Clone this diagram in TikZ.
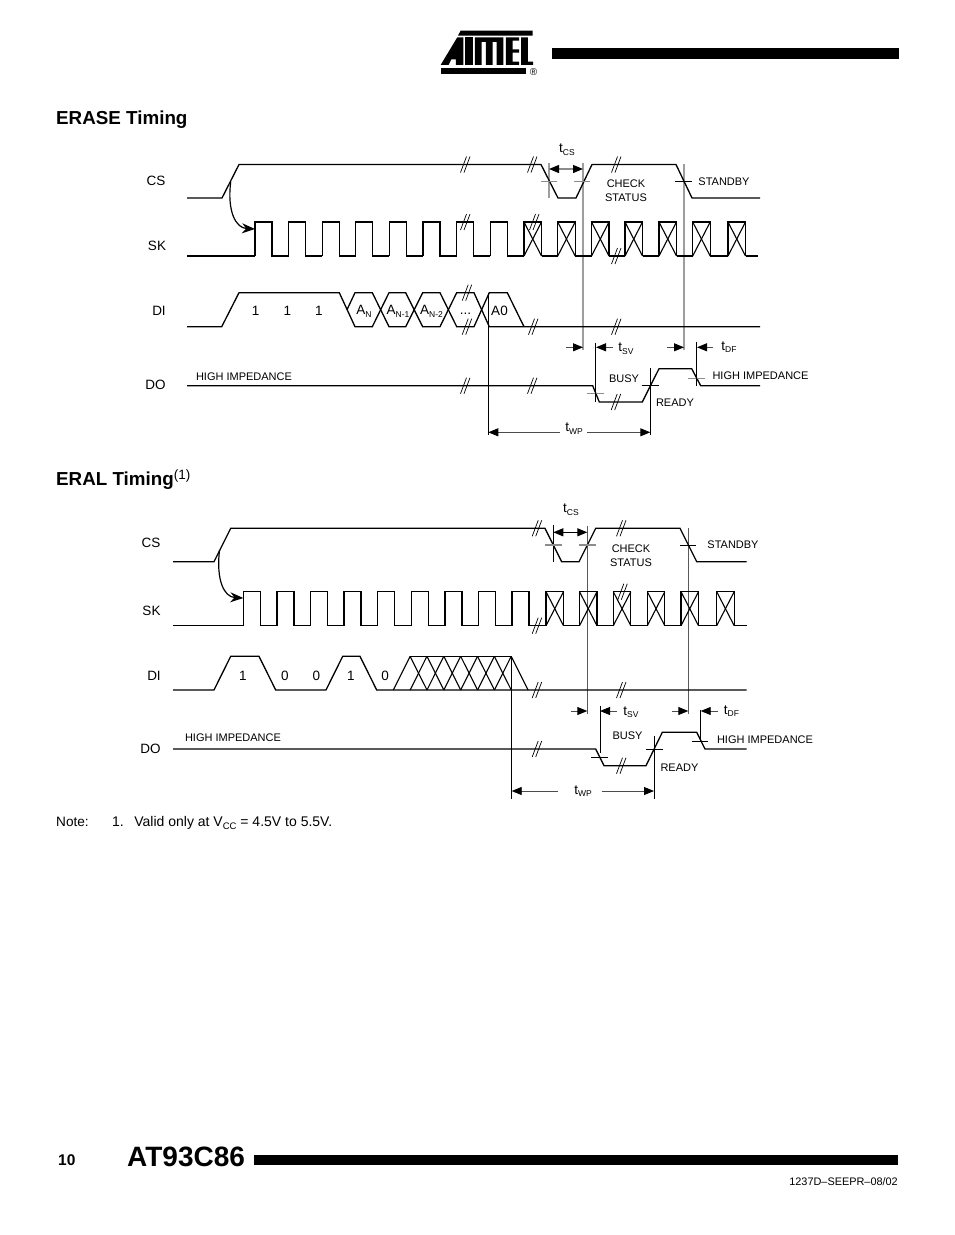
\documentclass[tikz,border=0pt]{standalone}
\usepackage{fontspec}
\setmainfont{Liberation Sans}
\usetikzlibrary{arrows.meta}

\newcommand{\subtxt}[1]{\raisebox{-2.5pt}{\fontsize{8.5}{9}\selectfont #1}}
\newcommand{\BreakMark}[2]{%
    \draw[BreakLine] (#1,#2) ++(-4.5,8) -- ++(6,-16);
    \draw[BreakLine] (#1,#2) ++(-1,8) -- ++(6,-16);
}
\newcommand{\CrossBox}[4]{%
    \draw[Wave] (#1,#4) -- (#1,#3) -- (#2,#3) -- (#2,#4);
    \draw[Thin] (#1,#3) -- (#2,#4);
    \draw[Thin] (#1,#4) -- (#2,#3);
}

\begin{document}
\begin{tikzpicture}
    [
        x=1pt,y=-1pt,
        Wave/.style={line width=1.3pt,line join=miter},
        Thin/.style={line width=1.1pt},
        BreakLine/.style={line width=0.7pt},
        Tick/.style={line width=0.9pt},
        TickGray/.style={line width=1.1pt,color=black!45},
        Guide/.style={line width=1pt},
        GuideGray/.style={line width=1.6pt,color=black!38},
        GuideDark/.style={line width=1pt,color=black!65},
        Dim/.style={line width=0.9pt,color=black!70,-{Triangle[length=10pt,width=8pt,color=black]}},
        DimBoth/.style={line width=1.2pt,color=black!45,{Triangle[length=10pt,width=8pt,color=black]}-{Triangle[length=10pt,width=8pt,color=black]}},
        Swoop/.style={line width=1.2pt,-{Stealth[length=13pt,width=10pt]}},
        Heading/.style={inner sep=0pt,anchor=west,yshift=-2pt,font=\fontsize{18.8}{22}\selectfont\bfseries},
        Time/.style={inner sep=0pt,font=\fontsize{13.5}{15}\selectfont},
        Signal/.style={inner sep=0pt,yshift=-1pt,font=\fontsize{13.5}{15}\selectfont},
        Small/.style={inner sep=0pt,yshift=-1pt,align=center,font=\fontsize{11}{14}\selectfont}
    ]
    \useasboundingbox (0,0) rectangle (954,1235);

    % page head
    \fill (552,48) rectangle (899,59);
    \begin{scope}[shift={(420,20)},x=0.333pt,y=-0.333pt]
        \fill (122,32) -- (338,32) -- (338,47) -- (114,47) -- cycle;
        \fill (112,52) -- (130,52) -- (130,135) -- (108,135) -- (108,118) -- (94,118) -- (86,135) -- (62,135) -- cycle;
        \fill (136,52) rectangle (158,135);
        \fill (165,52) -- (250,52) -- (250,135) -- (230,135) -- (230,66) -- (218,66) -- (218,135) -- (198,135) -- (198,66) -- (185,66) -- (185,135) -- (165,135) -- cycle;
        \fill (258,52) -- (298,52) -- (298,62) -- (278,62) -- (278,88) -- (298,88) -- (298,98) -- (278,98) -- (278,125) -- (298,125) -- (298,135) -- (258,135) -- cycle;
        \fill (304,52) -- (324,52) -- (324,125) -- (340,125) -- (340,135) -- (304,135) -- cycle;
        \fill (62,145) rectangle (318,162);
    \end{scope}
    \node[inner sep=0pt,font=\fontsize{10}{10}\selectfont] (regmark) at (533.5,72) {®};

    % erase timing
    \node[Heading] (eraseTitle) at (56,118) {ERASE Timing};
    \node[Signal] (eraseCS) at (156,180) {CS};
    \node[Signal] (eraseSK) at (157,245) {SK};
    \node[Signal] (eraseDI) at (159,310) {DI};
    \node[Signal] (eraseDO) at (155.5,384) {DO};

    \draw[GuideGray] (549,163) -- (549,198);
    \draw[GuideGray] (583,163) -- (583,350);
    \draw[GuideGray] (684,164) -- (684,350);
    \draw[Wave] (187,198) -- (222,198) -- (239,164.5) -- (541,164.5) -- (558,198) -- (576,198) -- (592,164.5) -- (676,164.5) -- (692,198) -- (760,198);
    \draw[TickGray] (541,181.7) -- (557,181.7);
    \draw[TickGray] (574,181.7) -- (590,181.7);
    \draw[Tick] (675,181.7) -- (692,181.7);

    \draw[Wave] (187,256) -- (255,256);
    \foreach \x in {255,288.6,322.2,355.8,389.4,423,456.6,490.2}
        \draw[Wave] (\x,256) -- (\x,222) -- (\x+17,222) -- (\x+17,256) -- (\x+33.6,256);
    \foreach \x in {524,557.7,591.5,625,659,692.7,728}
        \CrossBox{\x}{\x+17.5}{222}{256};
    \draw[Wave] (541.5,256) -- (557.7,256) (575.2,256) -- (591.5,256) (609,256) -- (625,256) (642.5,256) -- (659,256) (676.5,256) -- (692.7,256) (710.2,256) -- (728,256) (745.5,256) -- (758,256);

    \draw[Wave] (187,326.7) -- (221.7,326.7) -- (239,292.7) -- (339.3,292.7) -- (355,326.7) -- (372.3,326.7) -- (389,292.7) -- (405.7,292.7) -- (422.7,326.7) -- (440,326.7) -- (456.7,292.7) -- (474,292.7) -- (489.3,326.7) -- (760,326.7);
    \draw[Wave] (347,309.7) -- (355,292.7) -- (372.3,292.7) -- (389,326.7) -- (405.7,326.7) -- (422.7,292.7) -- (440,292.7) -- (456.7,326.7) -- (474,326.7) -- (489.3,292.7) -- (507.3,292.7) -- (524,326.7);

    \draw[Wave] (187,385.7) -- (592.7,385.7) -- (599.3,402) -- (642.3,402) -- (659,368.7) -- (691.7,368.7) -- (700.7,385.7) -- (760,385.7);
    \draw[TickGray] (587.3,393.3) -- (604,393.3);
    \draw[Tick] (641.7,385.3) -- (658.7,385.3);
    \draw[TickGray] (688.3,378.3) -- (705,378.3);

    \foreach \x/\y in {465/164.5,532/164.5,616/164.5,465/222,534/222,616/256,466.7/292.7,466.7/326.7,533/326.7,616/326.7,465/385.7,532/385.7,615.7/402}
        \BreakMark{\x}{\y};

    \coordinate (eraseCurveA) at (230.7,181.7);
    \coordinate (eraseCurveB) at (255,229);
    \draw[Swoop] (eraseCurveA) .. controls (227,212) and (236,228) .. (eraseCurveB);

    \node[Signal] (eraseOneA) at (255.7,310) {1};
    \node[Signal] (eraseOneB) at (287.5,310) {1};
    \node[Signal] (eraseOneC) at (319,310) {1};
    \node[Signal] (eraseAn) at (364,310.5) {A\subtxt{N}};
    \node[Signal] (eraseAnA) at (398,310.5) {A\subtxt{N-1}};
    \node[Signal] (eraseAnB) at (431.5,310.5) {A\subtxt{N-2}};
    \node[Signal] (eraseDots) at (465.5,313) {...};
    \node[Signal] (eraseAz) at (499.5,309.5) {A0};

    \node[Time] (eraseTcs) at (567,149.5) {t\subtxt{CS}};
    \node[Small] (eraseCheck) at (626,190) {CHECK\\STATUS};
    \node[Small] (eraseStandby) at (724,181) {STANDBY};
    \node[Time] (eraseTsv) at (626,348.5) {t\subtxt{SV}};
    \node[Time] (eraseTdf) at (729,347) {t\subtxt{DF}};
    \node[Small] (eraseImpA) at (244,376) {HIGH IMPEDANCE};
    \node[Small] (eraseImpB) at (760.5,375) {HIGH IMPEDANCE};
    \node[Small] (eraseBusy) at (624,378) {BUSY};
    \node[Small] (eraseReady) at (675,402) {READY};
    \node[Time] (eraseTwp) at (574,428.5) {t\subtxt{WP}};

    \coordinate (eraseTcsL) at (549,169);
    \coordinate (eraseTcsR) at (583,169);
    \draw[DimBoth] (eraseTcsL) -- (eraseTcsR);

    \draw[Guide] (488.3,292.7) -- (488.3,435);
    \draw[Guide] (595.7,343) -- (595.7,401.7);
    \draw[Guide] (650.3,368) -- (650.3,435);
    \draw[Guide] (696.7,341.7) -- (696.7,386);
    \draw[Dim] (566,347.3) -- (583,347.3);
    \draw[Dim] (613,347.3) -- (596,347.3);
    \draw[Dim] (666.7,347.3) -- (684,347.3);
    \draw[Dim] (713,347.3) -- (697,347.3);
    \draw[Dim] (560,432.3) -- (488.3,432.3);
    \draw[Dim] (587,432.3) -- (650.3,432.3);

    % eral timing
    \node[Heading] (eralTitle) at (56,478) {ERAL Timing\raisebox{6pt}{\fontsize{13.5}{14}\selectfont\mdseries(1)}};
    \node[Signal] (eralCS) at (151,542) {CS};
    \node[Signal] (eralSK) at (151.5,610) {SK};
    \node[Signal] (eralDI) at (154,675) {DI};
    \node[Signal] (eralDO) at (150.5,748) {DO};

    \draw[Guide] (553.3,525) -- (553.3,561.7);
    \draw[GuideDark] (587.3,526) -- (587.3,714);
    \draw[GuideDark] (688.3,528) -- (688.3,714);
    \draw[Wave] (173,561.7) -- (214,561.7) -- (230.7,528.3) -- (545,528.3) -- (561.7,561.7) -- (579,561.7) -- (595.7,528.3) -- (680,528.3) -- (696.7,561.7) -- (746.7,561.7);
    \draw[TickGray] (545,545) -- (561.7,545);
    \draw[TickGray] (579,545) -- (595.7,545);
    \draw[Tick] (680,545) -- (696,545);

    \draw[Wave] (173,625.7) -- (243.3,625.7);
    \foreach \x in {243.3,276.9,310.5,344.1,377.7,411.3,444.9,478.5,512.1}
        \draw[Wave] (\x,625.7) -- (\x,591.7) -- (\x+17,591.7) -- (\x+17,625.7) -- (\x+33.6,625.7);
    \foreach \x in {546,579.5,613.3,647.3,681,716.7}
        \CrossBox{\x}{\x+17.5}{591.7}{625.7};
    \draw[Wave] (563.5,625.7) -- (579.5,625.7) (597,625.7) -- (613.3,625.7) (630.8,625.7) -- (647.3,625.7) (664.8,625.7) -- (681,625.7) (698.5,625.7) -- (716.7,625.7) (734.2,625.7) -- (746.7,625.7);

    \draw[Wave] (173,690) -- (214,690) -- (230.7,656.3) -- (259,656.3) -- (275.7,690) -- (326,690) -- (342.7,656.3) -- (360,656.3) -- (376.7,690) -- (746.7,690);
    \draw[Wave] (410,656.3) -- (511.7,656.3);
    \foreach \i in {0,...,6} {
        \draw[Thin] (393.3+16.85*\i,690) -- (410.1+16.85*\i,656.3);
        \draw[Thin] (410.1+16.85*\i,656.3) -- (427+16.85*\i,690);
    }

    \draw[Wave] (173,749) -- (595.7,749) -- (604,765.7) -- (646,765.7) -- (662.3,732.3) -- (696.7,732.3) -- (705,749) -- (746.7,749);
    \draw[Tick] (591,757.3) -- (608,757.3);
    \draw[Tick] (646,749) -- (663,749);
    \draw[Tick] (691.7,741.7) -- (708,741.7);

    \foreach \x/\y in {536.7/528.3,621/528.3,536.7/625.7,622.3/591.7,536.7/690,621/690,536.7/749,621/765.7}
        \BreakMark{\x}{\y};

    \coordinate (eralCurveA) at (219.5,550);
    \coordinate (eralCurveB) at (243.3,598);
    \draw[Swoop] (eralCurveA) .. controls (216,580) and (224,597) .. (eralCurveB);

    \node[Signal] (eralOneA) at (243,675) {1};
    \node[Signal] (eralZeroA) at (285,675) {0};
    \node[Signal] (eralZeroB) at (316.5,675) {0};
    \node[Signal] (eralOneB) at (351,675) {1};
    \node[Signal] (eralZeroC) at (385,675) {0};

    \node[Time] (eralTcs) at (571,509.5) {t\subtxt{CS}};
    \node[Small] (eralCheck) at (631,554.5) {CHECK\\STATUS};
    \node[Small] (eralStandby) at (733,544) {STANDBY};
    \node[Time] (eralTsv) at (631,712) {t\subtxt{SV}};
    \node[Time] (eralTdf) at (731.5,711) {t\subtxt{DF}};
    \node[Small] (eralImpA) at (233,737) {HIGH IMPEDANCE};
    \node[Small] (eralImpB) at (765,739) {HIGH IMPEDANCE};
    \node[Small] (eralBusy) at (627.5,735) {BUSY};
    \node[Small] (eralReady) at (679.5,767) {READY};
    \node[Time] (eralTwp) at (583,791) {t\subtxt{WP}};

    \coordinate (eralTcsL) at (553.3,532.3);
    \coordinate (eralTcsR) at (587.3,532.3);
    \draw[DimBoth,color=black] (eralTcsL) -- (eralTcsR);

    \draw[Guide] (511.7,656.3) -- (511.7,799);
    \draw[Guide] (600,706) -- (600,753);
    \draw[Guide] (654,735.7) -- (654,799);
    \draw[Guide] (700.7,710) -- (700.7,741.7);
    \draw[Dim] (570.7,711) -- (587.3,711);
    \draw[Dim] (616.7,711) -- (600,711);
    \draw[Dim] (671.7,711) -- (688.3,711);
    \draw[Dim] (717.7,711) -- (700.7,711);
    \draw[Dim] (558,791) -- (511.7,791);
    \draw[Dim] (601.7,791) -- (654,791);

    % page foot
    \node[inner sep=0pt,anchor=west,font=\fontsize{13.6}{16}\selectfont] (noteHead) at (56,822) {Note:};
    \node[inner sep=0pt,anchor=west,font=\fontsize{14}{16}\selectfont] (noteText) at (112,823) {1.\hspace{10.5pt}Valid only at V\raisebox{-2.5pt}{\fontsize{9.5}{10}\selectfont CC} = 4.5V to 5.5V.};
    \node[inner sep=0pt,anchor=west,font=\fontsize{15.5}{18}\selectfont\bfseries] (pageNum) at (58,1160) {10};
    \node[inner sep=0pt,anchor=west,font=\fontsize{28}{32}\selectfont\bfseries] (partName) at (127,1157) {AT93C86};
    \fill (254,1155) rectangle (898,1165);
    \node[inner sep=0pt,anchor=east,font=\fontsize{10.9}{13}\selectfont] (docNum) at (898,1182) {1237D–SEEPR–08/02};
\end{tikzpicture}
\end{document}
